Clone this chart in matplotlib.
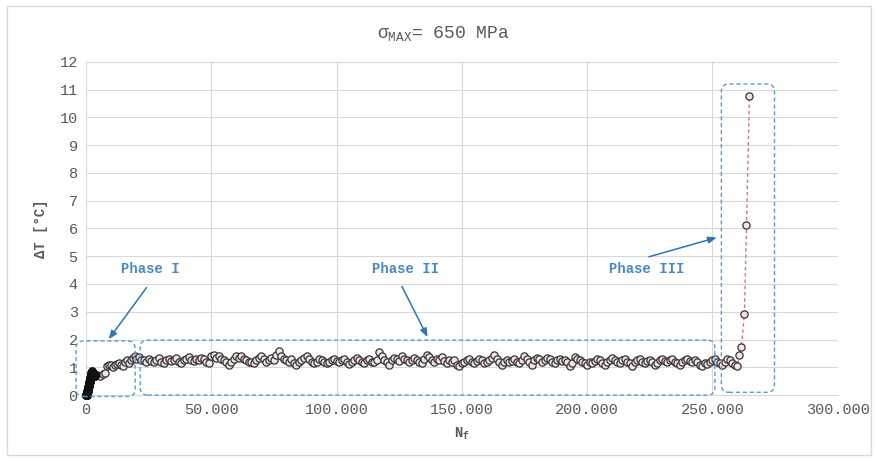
import matplotlib
matplotlib.use("Agg")
import matplotlib.pyplot as plt
import numpy as np
from matplotlib.patches import FancyBboxPatch, Rectangle
from matplotlib.ticker import FuncFormatter

# ---------------- data ----------------
# Phase I: dense initial ramp (cycles, delta T)
early_start, early_step = 0, 40
early_dT = [0.00, 0.00, 0.00, 0.00, 0.00, 0.00, 0.01, 0.02, 0.03, 0.05, 0.06, 0.08, 0.10, 0.11, 0.13, 0.15, 0.16, 0.18, 0.20, 0.21,
            0.23, 0.25, 0.26, 0.28, 0.30, 0.31, 0.33, 0.35, 0.36, 0.38, 0.40, 0.41, 0.43, 0.45, 0.46, 0.48, 0.50, 0.51, 0.53, 0.55,
            0.56, 0.58, 0.60, 0.61, 0.63, 0.65, 0.66, 0.68, 0.70, 0.71, 0.73, 0.75, 0.76, 0.78, 0.80, 0.81, 0.82, 0.83, 0.84, 0.85,
            0.84, 0.83, 0.82, 0.81, 0.80, 0.79, 0.78, 0.77, 0.76, 0.75, 0.74, 0.73, 0.72, 0.72, 0.71, 0.71, 0.70, 0.70, 0.71, 0.72,
            0.72, 0.73, 0.74, 0.73, 0.72, 0.71, 0.70, 0.71, 0.72, 0.73]
# Transition towards the plateau
trans_N = [4400, 5600, 6800, 7600, 8400, 9200, 10000, 10800, 11600, 12400,
           13200, 14000, 14800, 15600, 16400, 17200, 18000, 18800, 19400]
trans_dT = [0.72, 0.70, 0.75, 0.80, 1.05, 1.08, 1.10, 1.02, 1.08, 1.12,
            1.15, 1.08, 1.05, 1.18, 1.25, 1.15, 1.28, 1.35, 1.40]
# Phase II plateau (sampled every 1000 cycles from 20000)
plat_start, plat_step = 20000, 1000
plat_dT = [
    1.30, 1.38, 1.28, 1.25, 1.20, 1.30, 1.22, 1.18, 1.25, 1.32, 1.20, 1.15, 1.25, 1.30, 1.22, 1.28, 1.35, 1.20, 1.15, 1.25,
    1.30, 1.38, 1.28, 1.22, 1.30, 1.25, 1.32, 1.30, 1.20, 1.15, 1.40, 1.45, 1.35, 1.40, 1.30, 1.25, 1.20, 1.10, 1.20, 1.30,
    1.40, 1.35, 1.42, 1.30, 1.25, 1.18, 1.20, 1.15, 1.25, 1.35, 1.40, 1.30, 1.20, 1.25, 1.35, 1.28, 1.45, 1.60, 1.40, 1.30,
    1.25, 1.20, 1.30, 1.15, 1.10, 1.20, 1.25, 1.35, 1.40, 1.30, 1.20, 1.15, 1.20, 1.30, 1.25, 1.20, 1.15, 1.20, 1.28, 1.30,
    1.22, 1.18, 1.25, 1.30, 1.20, 1.12, 1.20, 1.28, 1.35, 1.25, 1.20, 1.15, 1.25, 1.30, 1.20, 1.18, 1.28, 1.55, 1.40, 1.25,
    1.20, 1.10, 1.25, 1.35, 1.30, 1.22, 1.40, 1.30, 1.25, 1.20, 1.28, 1.35, 1.25, 1.20, 1.15, 1.30, 1.45, 1.38, 1.25, 1.20,
    1.30, 1.25, 1.38, 1.22, 1.15, 1.25, 1.20, 1.28, 1.10, 1.05, 1.15, 1.20, 1.25, 1.30, 1.20, 1.15, 1.22, 1.30, 1.25, 1.15,
    1.20, 1.25, 1.35, 1.45, 1.30, 1.20, 1.10, 1.20, 1.25, 1.18, 1.22, 1.30, 1.20, 1.15, 1.25, 1.40, 1.30, 1.20, 1.10, 1.25,
    1.35, 1.30, 1.20, 1.25, 1.35, 1.30, 1.20, 1.15, 1.25, 1.30, 1.22, 1.25, 1.18, 1.05, 1.15, 1.38, 1.30, 1.25, 1.20, 1.15,
    1.10, 1.20, 1.15, 1.22, 1.30, 1.25, 1.15, 1.10, 1.20, 1.28, 1.35, 1.25, 1.20, 1.15, 1.25, 1.30, 1.20, 1.15, 1.05, 1.20,
    1.25, 1.30, 1.20, 1.15, 1.22, 1.28, 1.20, 1.10, 1.15, 1.25, 1.30, 1.22, 1.18, 1.25, 1.30, 1.20, 1.15, 1.10, 1.20, 1.25,
    1.30, 1.22, 1.18, 1.25, 1.20, 1.10, 1.05, 1.15, 1.12, 1.20, 1.25, 1.30, 1.20, 1.15, 1.10, 1.20, 1.30, 1.25, 1.15, 1.10,
    1.05]
# Phase III: final rise
final_N = [260800, 261600, 262800, 263600, 264800]
final_dT = [1.44, 1.73, 2.92, 6.13, 10.77]

x_ticks = [0, 50000, 100000, 150000, 200000, 250000, 300000]
y_ticks = list(range(0, 13))
phase_labels = ["Phase I", "Phase II", "Phase III"]

# ---------------- assemble ----------------
early_N = early_start + early_step * np.arange(len(early_dT))
plat_N = plat_start + plat_step * np.arange(len(plat_dT))
N = np.concatenate([early_N, trans_N, plat_N, final_N])
dT = np.concatenate([early_dT, trans_dT, plat_dT, final_dT])

mono = "Liberation Mono"
fig = plt.figure(figsize=(8.78, 4.61), dpi=100)
ax = fig.add_axes([0.098, 0.143, 0.856, 0.723])

ax.plot(N, dT, linestyle=(0, (2.5, 2)), color="#d9777a", lw=1.0, zorder=2)
ax.plot(N, dT, linestyle="none", marker="o", markersize=5.2,
        markerfacecolor="#f4e4e4", markeredgecolor="#333333",
        markeredgewidth=0.9, zorder=3, clip_on=False)
# dense initial measurements render as a solid dark cluster
ax.plot(early_N, early_dT, linestyle="none", marker="o", markersize=5.2,
        markerfacecolor="#111111", markeredgecolor="#111111",
        markeredgewidth=0.9, zorder=3.5, clip_on=False)

ax.set_xlim(0, 300000)
ax.set_ylim(0, 12)
ax.set_xticks(x_ticks)
ax.set_yticks(y_ticks)
ax.xaxis.set_major_formatter(FuncFormatter(lambda v, p: f"{int(v):,}".replace(",", ".")))
ax.grid(True, color="#d9d9d9", lw=0.8, zorder=0)
ax.set_axisbelow(True)
for s in ["top", "right", "left"]:
    ax.spines[s].set_visible(False)
ax.spines["bottom"].set_color("#d9d9d9")
ax.tick_params(length=0, labelsize=11, labelcolor="#595959", pad=6)
for lab in ax.get_xticklabels() + ax.get_yticklabels():
    lab.set_fontfamily(mono)

ax.set_xlabel("N$_\\mathregular{f}$", fontfamily=mono, fontsize=10,
              fontweight="bold", color="#595959", labelpad=6)
ax.set_ylabel("ΔT [°C]", fontfamily=mono, fontsize=10, fontweight="bold",
              color="#595959", labelpad=8)
fig.text(0.505, 0.928, "σ$_\\mathregular{MAX}$= 650 MPa", ha="center", va="center",
         fontfamily=mono, fontsize=13, color="#595959")

# phase boxes
box_col = "#5b9bd5"
asp = (1 / 27.75) / 400.0
for (x0, y0, x1, y1) in [(-4000, -0.05, 19600, 1.95),
                         (21600, 0.0, 251000, 1.98),
                         (253600, 0.1, 274800, 11.2)]:
    p = FancyBboxPatch((x0, y0), x1 - x0, y1 - y0,
                       boxstyle="round,pad=0,rounding_size=3000",
                       mutation_aspect=asp, fill=False, edgecolor=box_col,
                       linestyle=(0, (3, 2)), lw=1.0, clip_on=False, zorder=4)
    ax.add_patch(p)

txt_col = "#4a86c0"
arrow_col = "#2e75b6"
ann = [(phase_labels[0], (25600, 4.54), (24800, 3.95), (8400, 1.93)),
       (phase_labels[1], (127600, 4.54), (125600, 4.0), (136800, 2.0)),
       (phase_labels[2], (223600, 4.54), (223600, 4.95), (252800, 5.7))]
for lab, tpos, a0, a1 in ann:
    ax.text(tpos[0], tpos[1], lab, ha="center", va="center", fontfamily=mono,
            fontsize=10, fontweight="bold", color=txt_col, zorder=5)
    ax.annotate("", xy=a1, xytext=a0,
                arrowprops=dict(arrowstyle="-|>,head_length=0.5,head_width=0.2",
                                color=arrow_col, lw=1.1), zorder=5)

fig.patches.append(Rectangle((0.008, 0.012), 0.984, 0.975, transform=fig.transFigure,
                             fill=False, edgecolor="#d9d9d9", lw=1.0))

fig.savefig("out.png", dpi=100)
